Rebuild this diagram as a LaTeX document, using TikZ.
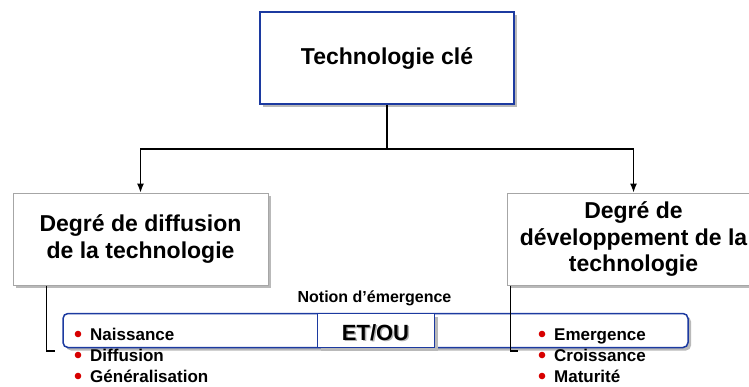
\documentclass[tikz,border=0pt]{standalone}
\usepackage{fontspec}
\setmainfont{Liberation Sans}
\usetikzlibrary{shadows,arrows.meta}
\definecolor{rahmenblau}{RGB}{28,58,160}
\definecolor{punktrot}{RGB}{215,0,0}
\tikzset{
	schatten/.style={drop shadow={shadow xshift=3pt,shadow yshift=-3pt,fill=gray!55,opacity=1}},
	kasten/.style={draw=gray!70,line width=1pt,fill=white,inner sep=0,minimum height=92pt,align=center,schatten,font=\fontsize{23}{27}\selectfont\bfseries},
	band/.style={draw=rahmenblau,line width=1.5pt,fill=white,inner sep=0,minimum height=34pt,schatten},
	punkt/.style={inner sep=0,anchor=base west,font=\fontsize{17}{20}\selectfont\bfseries}
}
\newcommand{\schattentext}[1]{\makebox[0pt][l]{\hspace{1.5pt}\raisebox{-1.5pt}{\textcolor{gray!60}{#1}}}#1}
\begin{document}
\begin{tikzpicture}[x=1pt,y=-1pt]
	\useasboundingbox (0,0) rectangle (749,386);
	% Kaesten
	\node[kasten,draw=rahmenblau,line width=1.5pt,minimum width=254pt] (cle) at (387,58) {Technologie clé};
	\node[kasten,minimum width=255pt] (diffusion) at (140.5,239) {Degré de diffusion\\de la technologie};
	\node[kasten,minimum width=253pt,font=\fontsize{23}{26.5}\selectfont\bfseries] (developpement) at (633.5,239) {Degré de\\développement de la\\technologie};
	% Verbindungen
	\coordinate (verzweigung) at (387,149);
	\draw [very thick] (cle.south) -- (verzweigung);
	\draw [very thick] [-{Latex[length=9pt,width=7pt]}] (verzweigung) -| (diffusion.north);
	\draw [very thick] [-{Latex[length=9pt,width=7pt]}] (verzweigung) -| (developpement.north);
	% Band mit ET/OU
	\node[band,rounded corners=5pt,minimum width=625pt] (band) at (375.5,330.5) {};
	\node[band,minimum width=117pt] (etou) at (376,330.5) {};
	\node[anchor=base,inner sep=0,font=\fontsize{22}{26}\selectfont\bfseries] (etoutext) at (375.5,340) {\schattentext{ET/OU}};
	\node[anchor=base,inner sep=0,font=\fontsize{16}{19}\selectfont\bfseries] (notion) at (374.5,302) {Notion d’émergence};
	% Klammern
	\coordinate (klammerlinks) at (55,351);
	\coordinate (klammerrechts) at (518,351);
	\draw [very thick] ([xshift=34pt]diffusion.south west) |- (klammerlinks);
	\draw [very thick] ([xshift=4pt]developpement.south west) |- (klammerrechts);
	% Listen
	\foreach \wort [count=\i] in {Naissance,Diffusion,Généralisation} {
		\node[punkt] (links\i) at (90,319+21*\i) {\wort};
		\fill[punktrot] ([xshift=-12pt,yshift=6pt]links\i.base west) circle (3.3pt);
	}
	\foreach \wort [count=\i] in {Emergence,Croissance,Maturité} {
		\node[punkt] (rechts\i) at (554,319+21*\i) {\wort};
		\fill[punktrot] ([xshift=-12pt,yshift=6pt]rechts\i.base west) circle (3.3pt);
	}
\end{tikzpicture}
\end{document}
